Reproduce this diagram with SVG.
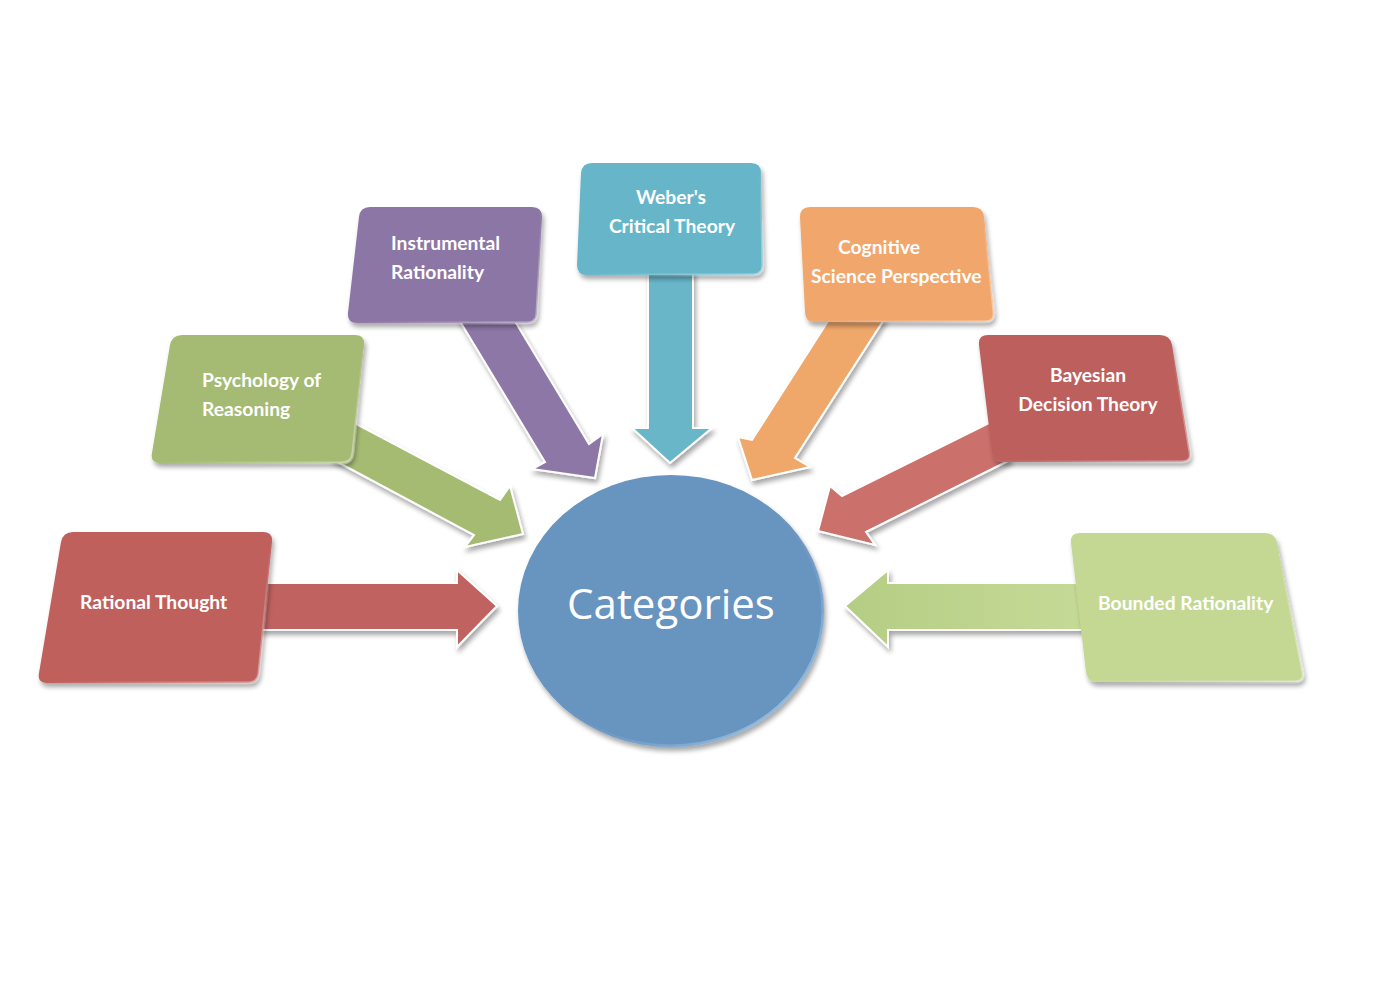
<svg xmlns="http://www.w3.org/2000/svg" width="1380" height="991" viewBox="0 0 1380 991">
<defs>
<filter id="sh" x="-20%" y="-20%" width="140%" height="140%">
<feGaussianBlur in="SourceAlpha" stdDeviation="2.5"/>
<feOffset dx="2" dy="4" result="b"/>
<feComponentTransfer><feFuncA type="linear" slope="0.35"/></feComponentTransfer>
<feMerge><feMergeNode/><feMergeNode in="SourceGraphic"/></feMerge>
</filter>
<linearGradient id="gBR" x1="0" y1="0" x2="1" y2="0">
<stop offset="0" stop-color="#b4cd84"/><stop offset="1" stop-color="#c6da97"/>
</linearGradient>
<linearGradient id="rim" x1="0" y1="0" x2="1" y2="1">
<stop offset="0.45" stop-color="#6894c0" stop-opacity="0"/><stop offset="1" stop-color="#b5d6f2"/>
</linearGradient>
<linearGradient id="boxhl" x1="0" y1="0" x2="1" y2="1">
<stop offset="0.5" stop-color="#ffffff" stop-opacity="0"/><stop offset="1" stop-color="#ffffff" stop-opacity="0.45"/>
</linearGradient>
</defs>
<style>
.lbl{font-family:Lato,"Open Sans","Liberation Sans",sans-serif;font-weight:bold;font-size:19.3px;fill:#ffffff}
.arr{stroke:#ffffff;stroke-width:2;stroke-linejoin:miter;filter:url(#sh)}
.box{filter:url(#sh)}
.hl{fill:none;stroke:url(#boxhl);stroke-width:3}
</style>
<rect width="1380" height="991" fill="#ffffff"/>
<g id="connectors">
<polygon class="arr" fill="#c0625e" points="255,583 457,583 457,570 497,606 457,647 457,630 255,630"/>
<polygon class="arr" fill="#a6bb72" points="345,418 500,500 510,486 523,534 465,547 474,535 330,458"/>
<polygon class="arr" fill="#8d77a6" points="458,318 545,462 532,469 595,478 603,434 589,444 513,318"/>
<polygon class="arr" fill="#68b6c8" points="648,270 693,270 693,428 712,428 670,463 632,428 648,428"/>
<polygon class="arr" fill="#f0a76b" points="830,318 752,440 738,437 752,480 810,467 795,458 885,318"/>
<polygon class="arr" fill="#cc706c" points="995,420 842,496 830,486 818,531 875,545 866,532 1010,460"/>
<polygon class="arr" fill="url(#gBR)" points="1085,583 888,583 888,570 845,606 888,647 888,630 1085,630"/>
</g>
<g id="node-rational-thought">
<path class="box" fill="#bf605c" d="M 73,532 L 263,532 Q 273,532 272,542 L 259,673 Q 258,683 248,683 L 47,683 Q 37,683 39,673 L 61,542 Q 63,532 73,532 Z"/>
<path class="hl" d="M 73,532 L 263,532 Q 273,532 272,542 L 259,673 Q 258,683 248,683 L 47,683 Q 37,683 39,673 L 61,542 Q 63,532 73,532 Z"/>
<text class="lbl" x="80" y="609">Rational Thought</text>
</g>
<g id="node-psychology">
<path class="box" fill="#a5ba72" d="M 182,335 L 355,335 Q 365,335 364,345 L 353,453 Q 352,463 342,463 L 160,463 Q 150,463 152,453 L 170,345 Q 172,335 182,335 Z"/>
<path class="hl" d="M 182,335 L 355,335 Q 365,335 364,345 L 353,453 Q 352,463 342,463 L 160,463 Q 150,463 152,453 L 170,345 Q 172,335 182,335 Z"/>
<text class="lbl" x="202" y="387">Psychology of</text>
<text class="lbl" x="202" y="416">Reasoning</text>
</g>
<g id="node-instrumental">
<path class="box" fill="#8c76a5" d="M 370,207 L 532,207 Q 542,207 542,217 L 537,313 Q 537,323 527,323 L 357,323 Q 347,323 348,313 L 359,217 Q 360,207 370,207 Z"/>
<path class="hl" d="M 370,207 L 532,207 Q 542,207 542,217 L 537,313 Q 537,323 527,323 L 357,323 Q 347,323 348,313 L 359,217 Q 360,207 370,207 Z"/>
<text class="lbl" x="391" y="250">Instrumental</text>
<text class="lbl" x="391" y="279">Rationality</text>
</g>
<g id="node-weber">
<path class="box" fill="#66b5c8" d="M 592,163 L 751,163 Q 761,163 761,173 L 763,265 Q 763,275 753,275 L 587,275 Q 577,275 577,265 L 581,173 Q 582,163 592,163 Z"/>
<path class="hl" d="M 592,163 L 751,163 Q 761,163 761,173 L 763,265 Q 763,275 753,275 L 587,275 Q 577,275 577,265 L 581,173 Q 582,163 592,163 Z"/>
<text class="lbl" x="671" y="204" text-anchor="middle">Weber's</text>
<text class="lbl" x="672" y="233" text-anchor="middle">Critical Theory</text>
</g>
<g id="node-cognitive">
<path class="box" fill="#f1a66c" d="M 810,207 L 973,207 Q 983,207 984,217 L 994,312 Q 995,322 985,322 L 815,322 Q 805,322 805,312 L 800,217 Q 800,207 810,207 Z"/>
<path class="hl" d="M 810,207 L 973,207 Q 983,207 984,217 L 994,312 Q 995,322 985,322 L 815,322 Q 805,322 805,312 L 800,217 Q 800,207 810,207 Z"/>
<text class="lbl" x="838" y="254">Cognitive</text>
<text class="lbl" x="811" y="283">Science Perspective</text>
</g>
<g id="node-bayesian">
<path class="box" fill="#bd5f5d" d="M 988,335 L 1160,335 Q 1170,335 1172,345 L 1190,452 Q 1192,462 1182,462 L 1003,462 Q 993,462 992,452 L 979,345 Q 978,335 988,335 Z"/>
<path class="hl" d="M 988,335 L 1160,335 Q 1170,335 1172,345 L 1190,452 Q 1192,462 1182,462 L 1003,462 Q 993,462 992,452 L 979,345 Q 978,335 988,335 Z"/>
<text class="lbl" x="1088" y="382" text-anchor="middle">Bayesian</text>
<text class="lbl" x="1088" y="411" text-anchor="middle">Decision Theory</text>
</g>
<g id="node-bounded">
<path class="box" fill="#c4d894" d="M 1080,533 L 1265,533 Q 1275,533 1277,543 L 1303,672 Q 1305,682 1295,682 L 1097,682 Q 1087,682 1086,672 L 1071,543 Q 1070,533 1080,533 Z"/>
<path class="hl" d="M 1080,533 L 1265,533 Q 1275,533 1277,543 L 1303,672 Q 1305,682 1295,682 L 1097,682 Q 1087,682 1086,672 L 1071,543 Q 1070,533 1080,533 Z"/>
<text class="lbl" x="1098" y="610">Bounded Rationality</text>
</g>
<g id="node-categories">
<ellipse cx="671" cy="611" rx="153" ry="136" fill="#6894c0" filter="url(#sh)"/>
<ellipse cx="671" cy="611" rx="152" ry="135" fill="none" stroke="url(#rim)" stroke-width="3"/>
<text x="671" y="619" text-anchor="middle" font-family="'Open Sans','Noto Sans','Liberation Sans',sans-serif" font-size="42" fill="#ffffff">Categories</text>
</g>
</svg>
